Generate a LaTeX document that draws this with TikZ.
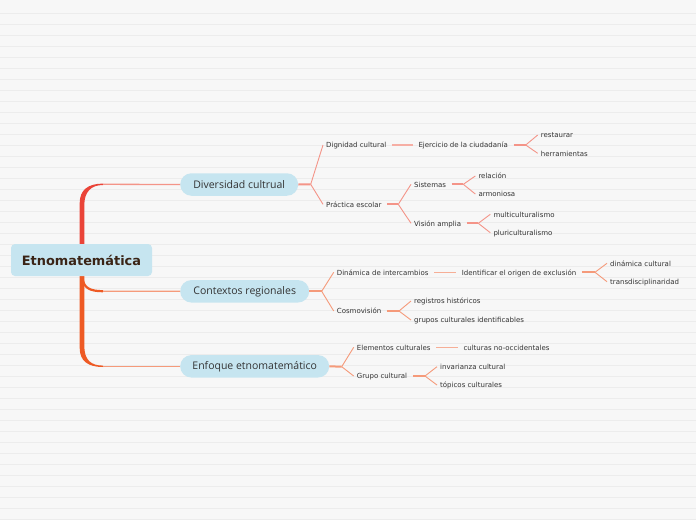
\documentclass[tikz,border=0pt]{standalone}
\usepackage{fontspec}
\setmainfont{DejaVu Sans}
\newfontfamily\topicfont{Open Sans}
\definecolor{bg}{HTML}{F7F7F7}
\definecolor{rulec}{HTML}{ECECEC}
\definecolor{boxblue}{HTML}{C6E5F0}
\definecolor{rootink}{HTML}{3A2416}
\definecolor{ink}{HTML}{333333}
\definecolor{trunkred}{HTML}{EA4438}
\definecolor{trunkorange}{HTML}{EE5A24}
\definecolor{salA}{HTML}{F49488}
\definecolor{salAl}{HTML}{F6AEA4}
\definecolor{salB}{HTML}{F59A7A}
\definecolor{salBl}{HTML}{F6AE96}
\tikzset{
  rootbox/.style={fill=boxblue, rounded corners=4pt, minimum width=141pt, minimum height=32pt, inner sep=0pt,
    font=\bfseries\fontsize{12.9}{14}\selectfont, text=rootink},
  topic/.style={anchor=west, fill=boxblue, rounded corners=11.25pt, minimum height=22.5pt, inner sep=0pt,
    font=\topicfont\fontsize{10.5}{12}\selectfont, text=ink},
  leaf/.style={anchor=west, font=\fontsize{7}{8}\selectfont, text=ink, inner xsep=3pt, inner ysep=0pt,
    text height=6.7pt, text depth=1pt},
  stub/.style={line width=2pt, shorten <=2.5pt},
  fork/.style={line width=0.9pt},
  link/.style={line width=1.4pt, shorten <=2.5pt, shorten >=2.5pt},
  hline/.style={line width=1.3pt},
}
\begin{document}
\begin{tikzpicture}[x=1pt,y=-1pt]
\fill[bg] (0,0) rectangle (696,520);
\useasboundingbox (0,0) rectangle (696,520);
\foreach \k in {0,...,46} \draw[rulec, line width=0.9pt] (0,13.3+11*\k) -- (696,13.3+11*\k);

% trunk
\fill[trunkred] (79.7,250) -- (79.7,203) .. controls (79.7,190) and (88,183.6) .. (103,183.6)
  -- (103,185) .. controls (91,185) and (84.3,192) .. (84.3,205) -- (84.3,250) -- cycle;
\fill[trunkorange] (79.7,270) -- (79.7,348) .. controls (79.7,361) and (88,367) .. (103,367)
  -- (103,365.6) .. controls (91,365.6) and (84.3,360) .. (84.3,346) -- (84.3,270) -- cycle;
\draw[trunkorange, line width=2.2pt] (82.5,277) .. controls (83,288) and (90,291.2) .. (103,291.2);

% root and topics
\node[rootbox] (root) at (81.5,260) {Etnomatemática};
\node[topic, minimum width=118pt] (dc) at (180,184.5) {Diversidad cultrual};
\node[topic, minimum width=129pt] (cr) at (180,291.3) {Contextos regionales};
\node[topic, minimum width=149pt] (ee) at (180,366.3) {Enfoque etnomatemático};

\draw[salA, hline] (103,184.3) -- (dc.west);
\draw[salB, hline] (103,291.2) -- (cr.west);
\draw[salB, hline] (103,366.3) -- (ee.west);

% branch 1 leaves
\node[leaf] (dig) at (323,145) {Dignidad cultural};
\node[leaf] (eje) at (415.3,145) {Ejercicio de la ciudadanía};
\node[leaf] (res) at (537.7,135) {restaurar};
\node[leaf] (her) at (537.7,153.3) {herramientas};
\node[leaf] (pra) at (323,204.3) {Práctica escolar};
\node[leaf] (sis) at (411,184.3) {Sistemas};
\node[leaf] (rel) at (475.3,176) {relación};
\node[leaf] (arm) at (475.3,194) {armoniosa};
\node[leaf] (vis) at (411,223.3) {Visión amplia};
\node[leaf] (mul) at (490.3,214.3) {multiculturalismo};
\node[leaf] (plu) at (490.3,232.7) {pluriculturalismo};

% branch 2 leaves
\node[leaf] (din) at (333.7,272.3) {Dinámica de intercambios};
\node[leaf] (ide) at (458.7,272.3) {Identificar el origen de exclusión};
\node[leaf] (dcu) at (607,263.3) {dinámica cultural};
\node[leaf] (tra) at (607,281.7) {transdisciplinaridad};
\node[leaf] (cos) at (333.7,311) {Cosmovisión};
\node[leaf] (reg) at (411,301) {registros históricos};
\node[leaf] (gru) at (411,320) {grupos culturales identificables};

% branch 3 leaves
\node[leaf] (ele) at (353.7,347.3) {Elementos culturales};
\node[leaf] (cul) at (460.3,347.3) {culturas no-occidentales};
\node[leaf] (gcu) at (353.7,376) {Grupo cultural};
\node[leaf] (inv) at (437,366.7) {invarianza cultural};
\node[leaf] (tpc) at (437,385) {tópicos culturales};

% fork points
\coordinate (f1) at (310.7,184.3);
\coordinate (f2) at (525.7,145);
\coordinate (f3) at (398.3,204.3);
\coordinate (f4) at (463.3,184.3);
\coordinate (f5) at (478.3,223.3);
\coordinate (f6) at (321.7,291.3);
\coordinate (f7) at (595,272.3);
\coordinate (f8) at (399,311);
\coordinate (f9) at (341.7,366.7);
\coordinate (f10) at (425,376);

% branch 1 connectors
\begin{scope}[salA]
\draw[stub, shorten <=0pt] (dc.east) -- (f1);
\draw[fork] (f1) -- (dig.west);
\draw[fork] (f1) -- (pra.west);
\draw[link, salAl] (dig) -- (eje);
\draw[stub] (eje.east) -- (f2);
\draw[fork] (f2) -- (res.west);
\draw[fork] (f2) -- (her.west);
\draw[stub] (pra.east) -- (f3);
\draw[fork] (f3) -- (sis.west);
\draw[fork] (f3) -- (vis.west);
\draw[stub] (sis.east) -- (f4);
\draw[fork] (f4) -- (rel.west);
\draw[fork] (f4) -- (arm.west);
\draw[stub] (vis.east) -- (f5);
\draw[fork] (f5) -- (mul.west);
\draw[fork] (f5) -- (plu.west);
\end{scope}

% branch 2 connectors
\begin{scope}[salB]
\draw[stub, shorten <=0pt] (cr.east) -- (f6);
\draw[fork] (f6) -- (din.west);
\draw[fork] (f6) -- (cos.west);
\draw[link, salBl] (din) -- (ide);
\draw[stub] (ide.east) -- (f7);
\draw[fork] (f7) -- (dcu.west);
\draw[fork] (f7) -- (tra.west);
\draw[stub] (cos.east) -- (f8);
\draw[fork] (f8) -- (reg.west);
\draw[fork] (f8) -- (gru.west);
\end{scope}

% branch 3 connectors
\begin{scope}[salB]
\draw[stub, shorten <=0pt] (ee.east) -- (f9);
\draw[fork] (f9) -- (ele.west);
\draw[fork] (f9) -- (gcu.west);
\draw[link, salBl] (ele) -- (cul);
\draw[stub] (gcu.east) -- (f10);
\draw[fork] (f10) -- (inv.west);
\draw[fork] (f10) -- (tpc.west);
\end{scope}
\end{tikzpicture}
\end{document}
